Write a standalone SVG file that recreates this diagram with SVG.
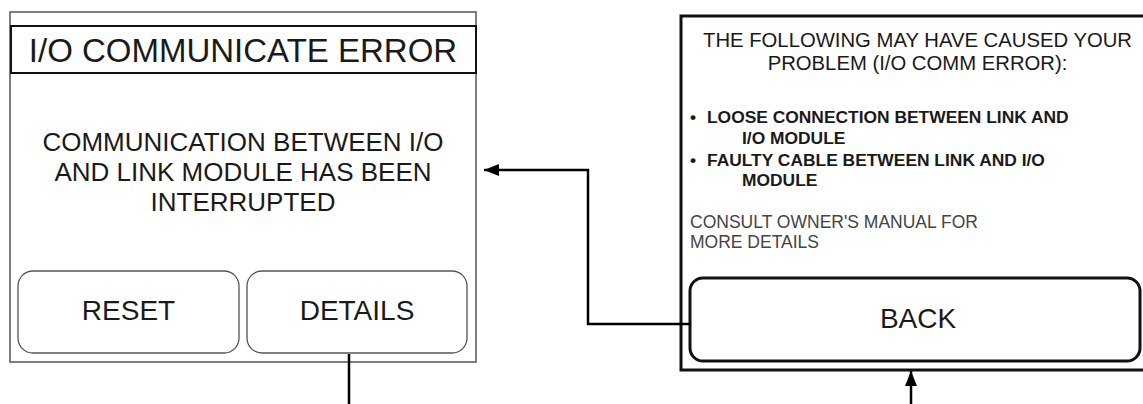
<svg xmlns="http://www.w3.org/2000/svg" width="1143" height="404" viewBox="0 0 1143 404">
<defs>
<style>
text{font-family:"Liberation Sans",Arial,sans-serif;fill:#1a1a1a}
.c{text-anchor:middle}
.frameL{fill:#fff;stroke:#555;stroke-width:1.5}
.title{fill:#fff;stroke:#111;stroke-width:2}
.btnL{fill:#fff;stroke:#555;stroke-width:1.3}
.frameR{fill:#fff;stroke:#111;stroke-width:3}
.btnR{fill:#fff;stroke:#111;stroke-width:3}
.b{font-weight:bold;font-size:17.4px}
.conn{fill:none;stroke:#000;stroke-width:2.5}
</style>
<marker id="ah" viewBox="0 0 15 12" refX="15" refY="6" markerWidth="15" markerHeight="12" markerUnits="userSpaceOnUse" orient="auto">
<path d="M0,0 L15,6 L0,12 Z" fill="#000"/>
</marker>
</defs>
<rect width="1143" height="404" fill="#fff"/>
<g id="error-screen">
<rect class="frameL" x="10" y="12" width="466" height="350"/>
<rect class="title" x="11" y="26" width="465" height="47"/>
<text class="c" x="243" y="62" font-size="33">I/O COMMUNICATE ERROR</text>
<text class="c" x="243" y="151" font-size="26">COMMUNICATION BETWEEN I/O</text>
<text class="c" x="243" y="181" font-size="26">AND LINK MODULE HAS BEEN</text>
<text class="c" x="243" y="211" font-size="26">INTERRUPTED</text>
</g>
<g id="reset-button">
<rect class="btnL" x="18" y="271" width="221" height="82" rx="15"/>
<text class="c" x="128.5" y="320" font-size="28">RESET</text>
</g>
<g id="details-button">
<rect class="btnL" x="247" y="271" width="220" height="82" rx="15"/>
<text class="c" x="357" y="320" font-size="28">DETAILS</text>
</g>
<g id="details-screen">
<rect class="frameR" x="681" y="16" width="480" height="354"/>
<text class="c" x="917.5" y="47" font-size="20.3">THE FOLLOWING MAY HAVE CAUSED YOUR</text>
<text class="c" x="917.5" y="70" font-size="20.3">PROBLEM (I/O COMM ERROR):</text>
<text class="b" x="690" y="123" font-size="14">•</text>
<text class="b" x="707" y="123">LOOSE CONNECTION BETWEEN LINK AND</text>
<text class="b" x="742" y="144">I/O MODULE</text>
<text class="b" x="690" y="166" font-size="14">•</text>
<text class="b" x="707" y="166">FAULTY CABLE BETWEEN LINK AND I/O</text>
<text class="b" x="742" y="186">MODULE</text>
<text x="690" y="228" font-size="17.5" style="fill:#444">CONSULT OWNER'S MANUAL FOR</text>
<text x="690" y="248" font-size="17.5" style="fill:#444">MORE DETAILS</text>
</g>
<g id="back-button">
<rect class="btnR" x="690" y="278" width="450" height="83" rx="13"/>
<text class="c" x="918" y="328" font-size="28">BACK</text>
</g>
<g id="connectors">
<path class="conn" d="M691,324 H588 V170 H484" marker-end="url(#ah)"/>
<path class="conn" d="M349,354 V404"/>
<path class="conn" d="M911,404 V371" marker-end="url(#ah)"/>
</g>
</svg>
